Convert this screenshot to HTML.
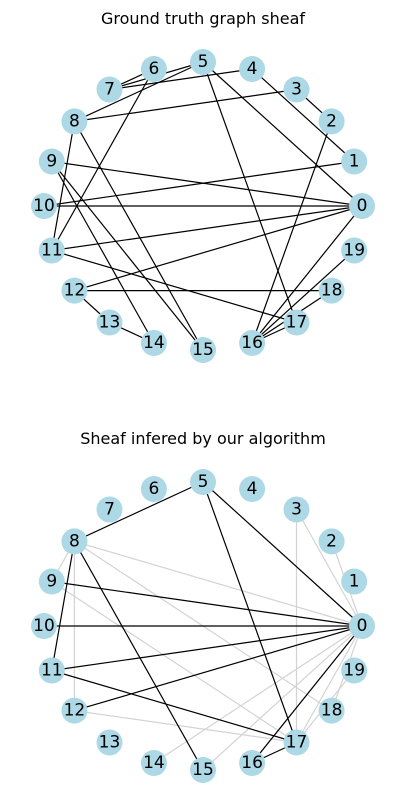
<!DOCTYPE html>
<html><head><meta charset="utf-8"><style>
body{margin:0;background:#fff;width:407px;height:812px;overflow:hidden}
svg{display:block}
text{font-family:"DejaVu Sans","Liberation Sans",sans-serif}
.b line{stroke:#000;stroke-width:1.2}
.g line{stroke:#d3d3d3;stroke-width:1.2}
circle{fill:#add8e6}
.n text{font-size:17px;text-anchor:middle;dominant-baseline:central}
</style></head><body>
<svg width="407" height="812" viewBox="0 0 407 812">
<text x="203" y="24" font-size="16" text-anchor="middle">Ground truth graph sheaf</text>
<text x="203" y="444" font-size="16" text-anchor="middle">Sheaf infered by our algorithm</text>
<g class="b">
<line x1="109.5" y1="89.5" x2="203" y2="62"/>
<line x1="109.5" y1="89.5" x2="153.9" y2="69"/>
<line x1="109.5" y1="89.5" x2="252.1" y2="69"/>
<line x1="74.4" y1="121.4" x2="203" y2="62"/>
<line x1="74.4" y1="121.4" x2="296.5" y2="89.5"/>
<line x1="153.9" y1="69" x2="51.8" y2="250.5"/>
<line x1="203" y1="62" x2="362" y2="206"/>
<line x1="203" y1="62" x2="296.5" y2="322.5"/>
<line x1="252.1" y1="69" x2="354.2" y2="161.5"/>
<line x1="296.5" y1="89.5" x2="331.6" y2="121.4"/>
<line x1="331.6" y1="121.4" x2="252.1" y2="343"/>
<line x1="354.2" y1="161.5" x2="44" y2="206"/>
<line x1="51.8" y1="161.5" x2="362" y2="206"/>
<line x1="44" y1="206" x2="362" y2="206"/>
<line x1="51.8" y1="250.5" x2="362" y2="206"/>
<line x1="74.4" y1="290.6" x2="362" y2="206"/>
<line x1="362" y1="206" x2="252.1" y2="343"/>
<line x1="74.4" y1="121.4" x2="51.8" y2="250.5"/>
<line x1="74.4" y1="121.4" x2="203" y2="350"/>
<line x1="51.8" y1="161.5" x2="153.9" y2="343"/>
<line x1="51.8" y1="161.5" x2="203" y2="350"/>
<line x1="51.8" y1="250.5" x2="296.5" y2="322.5"/>
<line x1="74.4" y1="290.6" x2="331.6" y2="290.6"/>
<line x1="74.4" y1="290.6" x2="109.5" y2="322.5"/>
<line x1="109.5" y1="322.5" x2="153.9" y2="343"/>
<line x1="252.1" y1="343" x2="354.2" y2="250.5"/>
<line x1="252.1" y1="343" x2="296.5" y2="322.5"/>
<line x1="252.1" y1="343" x2="331.6" y2="290.6"/>
</g>
<g transform="translate(0,420)">
<g class="g">
<line x1="74.4" y1="121.4" x2="51.8" y2="161.5"/>
<line x1="74.4" y1="121.4" x2="74.4" y2="290.6"/>
<line x1="74.4" y1="121.4" x2="362" y2="206"/>
<line x1="74.4" y1="121.4" x2="331.6" y2="290.6"/>
<line x1="51.8" y1="161.5" x2="296.5" y2="322.5"/>
<line x1="296.5" y1="89.5" x2="362" y2="206"/>
<line x1="331.6" y1="121.4" x2="362" y2="206"/>
<line x1="296.5" y1="89.5" x2="296.5" y2="322.5"/>
<line x1="362" y1="206" x2="153.9" y2="343"/>
<line x1="362" y1="206" x2="203" y2="350"/>
<line x1="362" y1="206" x2="296.5" y2="322.5"/>
<line x1="362" y1="206" x2="331.6" y2="290.6"/>
<line x1="74.4" y1="290.6" x2="296.5" y2="322.5"/>
<line x1="296.5" y1="322.5" x2="354.2" y2="250.5"/>
</g>
<g class="b">
<line x1="74.4" y1="121.4" x2="203" y2="62"/>
<line x1="203" y1="62" x2="362" y2="206"/>
<line x1="203" y1="62" x2="296.5" y2="322.5"/>
<line x1="51.8" y1="161.5" x2="362" y2="206"/>
<line x1="44" y1="206" x2="362" y2="206"/>
<line x1="51.8" y1="250.5" x2="362" y2="206"/>
<line x1="74.4" y1="290.6" x2="362" y2="206"/>
<line x1="362" y1="206" x2="252.1" y2="343"/>
<line x1="74.4" y1="121.4" x2="51.8" y2="250.5"/>
<line x1="74.4" y1="121.4" x2="203" y2="350"/>
<line x1="51.8" y1="250.5" x2="296.5" y2="322.5"/>
<line x1="252.1" y1="343" x2="296.5" y2="322.5"/>
</g>
</g>
<g class="n">
<circle cx="362" cy="206" r="13"/><text x="362" y="206">0</text>
<circle cx="354.2" cy="161.5" r="13"/><text x="354.2" y="161.5">1</text>
<circle cx="331.6" cy="121.4" r="13"/><text x="331.6" y="121.4">2</text>
<circle cx="296.5" cy="89.5" r="13"/><text x="296.5" y="89.5">3</text>
<circle cx="252.1" cy="69" r="13"/><text x="252.1" y="69">4</text>
<circle cx="203" cy="62" r="13"/><text x="203" y="62">5</text>
<circle cx="153.9" cy="69" r="13"/><text x="153.9" y="69">6</text>
<circle cx="109.5" cy="89.5" r="13"/><text x="109.5" y="89.5">7</text>
<circle cx="74.4" cy="121.4" r="13"/><text x="74.4" y="121.4">8</text>
<circle cx="51.8" cy="161.5" r="13"/><text x="51.8" y="161.5">9</text>
<circle cx="44" cy="206" r="13"/><text x="44" y="206">10</text>
<circle cx="51.8" cy="250.5" r="13"/><text x="51.8" y="250.5">11</text>
<circle cx="74.4" cy="290.6" r="13"/><text x="74.4" y="290.6">12</text>
<circle cx="109.5" cy="322.5" r="13"/><text x="109.5" y="322.5">13</text>
<circle cx="153.9" cy="343" r="13"/><text x="153.9" y="343">14</text>
<circle cx="203" cy="350" r="13"/><text x="203" y="350">15</text>
<circle cx="252.1" cy="343" r="13"/><text x="252.1" y="343">16</text>
<circle cx="296.5" cy="322.5" r="13"/><text x="296.5" y="322.5">17</text>
<circle cx="331.6" cy="290.6" r="13"/><text x="331.6" y="290.6">18</text>
<circle cx="354.2" cy="250.5" r="13"/><text x="354.2" y="250.5">19</text>
</g>
<g class="n" transform="translate(0,420)">
<circle cx="362" cy="206" r="13"/><text x="362" y="206">0</text>
<circle cx="354.2" cy="161.5" r="13"/><text x="354.2" y="161.5">1</text>
<circle cx="331.6" cy="121.4" r="13"/><text x="331.6" y="121.4">2</text>
<circle cx="296.5" cy="89.5" r="13"/><text x="296.5" y="89.5">3</text>
<circle cx="252.1" cy="69" r="13"/><text x="252.1" y="69">4</text>
<circle cx="203" cy="62" r="13"/><text x="203" y="62">5</text>
<circle cx="153.9" cy="69" r="13"/><text x="153.9" y="69">6</text>
<circle cx="109.5" cy="89.5" r="13"/><text x="109.5" y="89.5">7</text>
<circle cx="74.4" cy="121.4" r="13"/><text x="74.4" y="121.4">8</text>
<circle cx="51.8" cy="161.5" r="13"/><text x="51.8" y="161.5">9</text>
<circle cx="44" cy="206" r="13"/><text x="44" y="206">10</text>
<circle cx="51.8" cy="250.5" r="13"/><text x="51.8" y="250.5">11</text>
<circle cx="74.4" cy="290.6" r="13"/><text x="74.4" y="290.6">12</text>
<circle cx="109.5" cy="322.5" r="13"/><text x="109.5" y="322.5">13</text>
<circle cx="153.9" cy="343" r="13"/><text x="153.9" y="343">14</text>
<circle cx="203" cy="350" r="13"/><text x="203" y="350">15</text>
<circle cx="252.1" cy="343" r="13"/><text x="252.1" y="343">16</text>
<circle cx="296.5" cy="322.5" r="13"/><text x="296.5" y="322.5">17</text>
<circle cx="331.6" cy="290.6" r="13"/><text x="331.6" y="290.6">18</text>
<circle cx="354.2" cy="250.5" r="13"/><text x="354.2" y="250.5">19</text>
</g>
</svg>
</body></html>
